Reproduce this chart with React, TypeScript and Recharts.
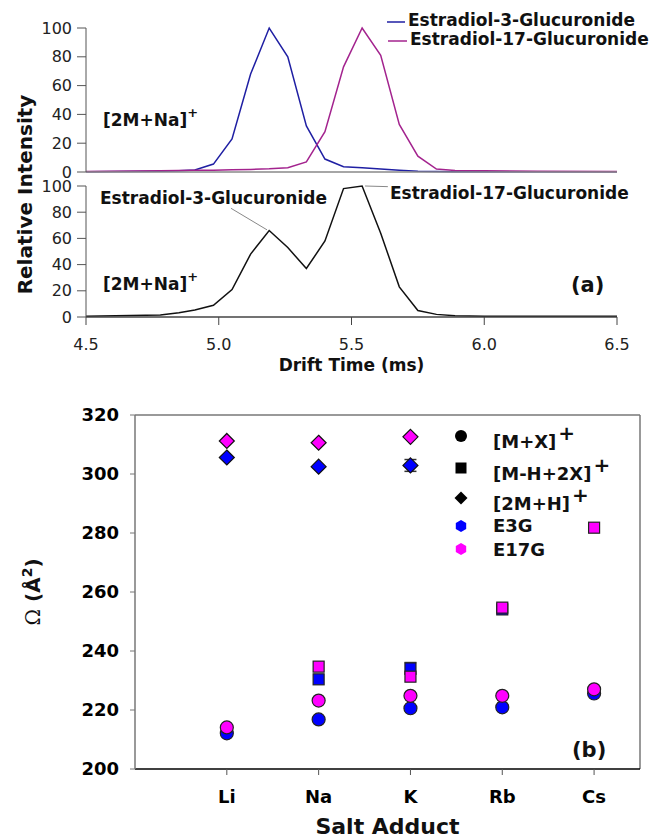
import React from 'react';
import {
  LineChart, Line,
  ScatterChart, Scatter,
  XAxis, YAxis, ReferenceLine, ErrorBar, Customized, Label
} from 'recharts';

const FONT = '"DejaVu Sans", Verdana, sans-serif';

// (a) drift time traces, relative intensity
const driftTime = [4.5, 4.78, 4.85, 4.91, 4.98, 5.05, 5.12, 5.19, 5.26, 5.33, 5.4, 5.47, 5.54, 5.61, 5.68, 5.75, 5.82, 5.89, 6.0, 6.2, 6.5];
const e3gTrace = [0.2, 0.5, 0.8, 1.4, 5.5, 23, 68, 100, 80, 32, 9, 3.7, 3, 2, 1.2, 0.5, 0.3, 0.2, 0.1, 0.1, 0.1];
const e17gTrace = [0.3, 0.8, 1, 1.2, 1.3, 1.5, 1.8, 2.2, 3, 7, 28, 73, 100, 81, 33, 11, 2, 1, 0.8, 0.5, 0.3];
const mixTrace = [0.5, 1.5, 3.3, 5.3, 9, 21, 48, 66, 53, 37, 58, 98, 100, 64, 23, 5, 2, 1, 0.5, 0.5, 0.5];
const intensityTicks = [0, 20, 40, 60, 80, 100];
const driftTicks = [4.5, 5.0, 5.5, 6.0, 6.5];

// (b) collision cross sections per salt adduct
const adducts = ['Li', 'Na', 'K', 'Rb', 'Cs'];
const e3gMX = [212.1, 216.8, 220.6, 220.9, 225.6];
const e17gMX = [214.1, 223.2, 224.8, 224.8, 227.0];
const e3gMH2X = [null, 230.4, 234.1, 254.1, null];
const e3gMH2XErr = [0, 0, 2, 0, 0];
const e17gMH2X = [null, 234.7, 231.3, 254.7, 281.8];
const e3g2MH = [305.6, 302.5, 302.9, null, null];
const e3g2MHErr = [0, 0, 2, 0, 0];
const e17g2MH = [311.2, 310.6, 312.6, null, null];
const ccsTicks = [200, 220, 240, 260, 280, 300, 320];

const BLUE = '#0000ff';
const MAGENTA = '#ff00ff';

const traceRows = driftTime.map((t, i) => ({ t, e3g: e3gTrace[i], e17g: e17gTrace[i], mix: mixTrace[i] }));

const toPoints = (vals: (number | null)[], errs?: number[]) =>
  vals
    .map((v, i) => (v == null ? null : { x: i + 1, y: v, err: errs ? errs[i] : 0 }))
    .filter(Boolean) as { x: number; y: number; err: number }[];

const circleShape = (fill: string) => (p: any) => (
  <circle cx={p.cx} cy={p.cy} r={6.5} fill={fill} stroke="#222" strokeWidth={1.2} />
);
const squareShape = (fill: string) => (p: any) => (
  <rect x={p.cx - 5.5} y={p.cy - 5.5} width={11} height={11} fill={fill} stroke="#222" strokeWidth={1.2} />
);
const diamondShape = (fill: string) => (p: any) => (
  <path d={`M${p.cx},${p.cy - 7.5}L${p.cx + 7.5},${p.cy}L${p.cx},${p.cy + 7.5}L${p.cx - 7.5},${p.cy}Z`} fill={fill} stroke="#111" strokeWidth={1.2} />
);

const hexPath = (cx: number, cy: number, r: number) => {
  const pts = [0, 1, 2, 3, 4, 5].map(k => {
    const a = (Math.PI / 3) * k + Math.PI / 6;
    return `${cx + r * Math.cos(a)},${cy + r * Math.sin(a)}`;
  });
  return `M${pts.join('L')}Z`;
};

const TopLegend = () => (
  <g fontFamily={FONT} fontWeight="bold" fontSize={17} fill="#111">
    <line x1={387} y1={22} x2={405} y2={22} stroke="#1f1fa3" strokeWidth={1.5} />
    <text x={408} y={26}>Estradiol-3-Glucuronide</text>
    <line x1={388} y1={41} x2={407} y2={41} stroke="#a3238e" strokeWidth={1.5} />
    <text x={410} y={45}>Estradiol-17-Glucuronide</text>
    <text x={103} y={126}>[2M+Na]<tspan dy={-9} fontSize={13}>+</tspan></text>
  </g>
);

const LowerNotes = () => (
  <g fontFamily={FONT} fontWeight="bold" fontSize={17} fill="#111">
    <text x={100} y={28}>Estradiol-3-Glucuronide</text>
    <text x={390} y={23}>Estradiol-17-Glucuronide</text>
    <text x={103} y={114}>[2M+Na]<tspan dy={-9} fontSize={13}>+</tspan></text>
    <text x={571} y={116} fontSize={21}>(a)</text>
  </g>
);

const legendRows = [
  { label: '[M+X]', sup: true, kind: 'circle', color: '#000', y: 56, base: 68 },
  { label: '[M-H+2X]', sup: true, kind: 'square', color: '#000', y: 88, base: 100 },
  { label: '[2M+H]', sup: true, kind: 'diamond', color: '#000', y: 118, base: 130 },
  { label: 'E3G', sup: false, kind: 'hex', color: BLUE, y: 146, base: 152 },
  { label: 'E17G', sup: false, kind: 'hex', color: MAGENTA, y: 169, base: 176 },
];

const BottomNotes = () => (
  <g fontFamily={FONT} fontWeight="bold" fontSize={18} fill="#111">
    {legendRows.map(r => (
      <g key={r.label}>
        {r.kind === 'circle' && <circle cx={461} cy={r.y} r={6} fill={r.color} />}
        {r.kind === 'square' && <rect x={455.5} y={r.y - 5.5} width={11} height={11} fill={r.color} />}
        {r.kind === 'diamond' && <path d={`M461,${r.y - 6.5}L467.5,${r.y}L461,${r.y + 6.5}L454.5,${r.y}Z`} fill={r.color} />}
        {r.kind === 'hex' && <path d={hexPath(461, r.y, 6)} fill={r.color} />}
        <text x={493} y={r.base}>
          {r.label}
          {r.sup && <tspan dx={2} dy={-8} fontSize={20}>+</tspan>}
        </text>
      </g>
    ))}
    <text x={572} y={377} fontSize={21}>(b)</text>
    <text x={40} y={212} fontSize={20} textAnchor="middle" transform="rotate(-90 40 212)">
      <tspan fontFamily='"DejaVu Serif", serif' fontWeight="normal">Ω</tspan> (Å<tspan dy={-8} fontSize={14}>2</tspan><tspan dy={8}>)</tspan>
    </text>
  </g>
);

export default function App() {
  const tickStyle = { fontFamily: FONT, fontSize: 16, fill: '#222' };
  const boldTick = { fontFamily: FONT, fontSize: 18, fontWeight: 'bold', fill: '#000' };
  return (
    <div style={{ position: 'absolute', left: 0, top: 0, width: 652, height: 840, background: '#fff' }}>
      <div style={{ position: 'absolute', left: 0, top: 0 }}>
        <LineChart width={652} height={184} data={traceRows} margin={{ top: 28, right: 35, left: 0, bottom: 4 }}>
          <XAxis type="number" dataKey="t" domain={[4.5, 6.5]} tick={false} tickLine={false} height={8} axisLine={{ stroke: '#888', strokeWidth: 1.5 }} />
          <YAxis domain={[0, 100]} ticks={intensityTicks} interval={0} width={86} tickSize={9} tickMargin={5} tick={tickStyle} axisLine={{ stroke: '#555' }} tickLine={{ stroke: '#555' }} />
          <Line type="linear" dataKey="e3g" stroke="#1f1fa3" strokeWidth={1.5} dot={false} isAnimationActive={false} />
          <Line type="linear" dataKey="e17g" stroke="#a3238e" strokeWidth={1.5} dot={false} isAnimationActive={false} />
          <Customized component={TopLegend} />
        </LineChart>
      </div>
      <div style={{ position: 'absolute', left: 0, top: 176 }}>
        <LineChart width={652} height={200} data={traceRows} margin={{ top: 10, right: 35, left: 0, bottom: 0 }}>
          <XAxis type="number" dataKey="t" domain={[4.5, 6.5]} ticks={driftTicks} interval={0} tickFormatter={(v: number) => v.toFixed(1)} height={59} tickSize={8} tickMargin={14} tick={tickStyle} axisLine={{ stroke: '#444', strokeWidth: 1.5 }} tickLine={{ stroke: '#444' }}>
            <Label value="Drift Time (ms)" position="insideBottom" offset={5} style={{ fontFamily: FONT, fontSize: 17, fontWeight: 'bold', fill: '#111' }} />
          </XAxis>
          <YAxis domain={[0, 100]} ticks={intensityTicks} interval={0} width={86} tickSize={9} tickMargin={5} tick={tickStyle} axisLine={{ stroke: '#555' }} tickLine={{ stroke: '#555' }} />
          <ReferenceLine segment={[{ x: 5.046, y: 83 }, { x: 5.182, y: 66.5 }]} stroke="#888" ifOverflow="visible" />
          <ReferenceLine segment={[{ x: 5.551, y: 100 }, { x: 5.637, y: 99.5 }]} stroke="#888" ifOverflow="visible" />
          <Line type="linear" dataKey="mix" stroke="#111" strokeWidth={1.5} dot={false} isAnimationActive={false} />
          <Customized component={LowerNotes} />
        </LineChart>
      </div>
      <svg style={{ position: 'absolute', left: 0, top: 0 }} width={50} height={340}>
        <text x={32} y={194.5} textAnchor="middle" transform="rotate(-90 32 194.5)" fontFamily={FONT} fontWeight="bold" fontSize={20} fill="#111">Relative Intensity</text>
      </svg>
      <div style={{ position: 'absolute', left: 0, top: 380 }}>
        <ScatterChart width={652} height={460} margin={{ top: 35, right: 12, left: 0, bottom: 0 }}>
          <XAxis type="number" dataKey="x" domain={[0, 5.5]} ticks={[1, 2, 3, 4, 5]} interval={0} tickFormatter={(v: number) => adducts[v - 1]} height={71} tickSize={6} tickMargin={15} tick={boldTick} axisLine={{ stroke: '#000', strokeWidth: 1.5 }} tickLine={{ stroke: '#555' }}>
            <Label value="Salt Adduct" position="insideBottom" offset={6} style={{ fontFamily: FONT, fontSize: 22, fontWeight: 'bold', fill: '#111' }} />
          </XAxis>
          <YAxis type="number" dataKey="y" domain={[200, 320]} ticks={ccsTicks} interval={0} width={135} tickSize={5} tickMargin={11} tick={boldTick} axisLine={{ stroke: '#777', strokeWidth: 1.5 }} tickLine={{ stroke: '#777' }} />
          <ReferenceLine y={320} stroke="#777" strokeWidth={1.5} />
          <ReferenceLine x={5.5} stroke="#777" strokeWidth={1.5} />
          <Scatter data={toPoints(e3gMX)} shape={circleShape(BLUE)} isAnimationActive={false} />
          <Scatter data={toPoints(e17gMX)} shape={circleShape(MAGENTA)} isAnimationActive={false} />
          <Scatter data={toPoints(e3gMH2X, e3gMH2XErr)} shape={squareShape(BLUE)} isAnimationActive={false}>
            <ErrorBar dataKey="err" direction="y" width={6} stroke="#555" />
          </Scatter>
          <Scatter data={toPoints(e17gMH2X)} shape={squareShape(MAGENTA)} isAnimationActive={false} />
          <Scatter data={toPoints(e3g2MH, e3g2MHErr)} shape={diamondShape(BLUE)} isAnimationActive={false}>
            <ErrorBar dataKey="err" direction="y" width={6} stroke="#333" />
          </Scatter>
          <Scatter data={toPoints(e17g2MH)} shape={diamondShape(MAGENTA)} isAnimationActive={false} />
          <Customized component={BottomNotes} />
        </ScatterChart>
      </div>
    </div>
  );
}
